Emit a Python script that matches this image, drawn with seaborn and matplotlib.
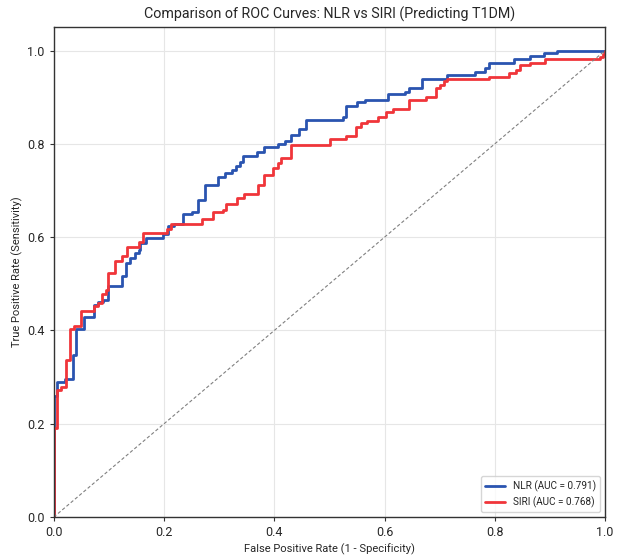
import pandas as pd
import seaborn as sns
import matplotlib.pyplot as plt

# ROC vertices: at each fpr the curve rises to tpr
nlr_fpr = [0.0, 0.0, 0.005, 0.02, 0.035, 0.041, 0.055, 0.073, 0.080, 0.089, 0.099,
           0.123, 0.131, 0.138, 0.147, 0.155, 0.157, 0.168, 0.199, 0.207, 0.218,
           0.235, 0.250, 0.262, 0.274, 0.298, 0.311, 0.323, 0.330, 0.338, 0.343,
           0.369, 0.381, 0.407, 0.419, 0.431, 0.445, 0.457, 0.525, 0.531, 0.550,
           0.564, 0.607, 0.638, 0.645, 0.668, 0.713, 0.764, 0.782, 0.790, 0.834,
           0.864, 0.889, 0.913, 1.0]
nlr_tpr = [0.0, 0.26, 0.29, 0.297, 0.348, 0.404, 0.428, 0.455, 0.462, 0.466, 0.495,
           0.516, 0.544, 0.555, 0.566, 0.573, 0.587, 0.598, 0.607, 0.623, 0.628,
           0.650, 0.655, 0.680, 0.712, 0.730, 0.737, 0.743, 0.752, 0.762, 0.775,
           0.782, 0.793, 0.800, 0.807, 0.820, 0.832, 0.852, 0.858, 0.882, 0.889,
           0.895, 0.907, 0.912, 0.919, 0.938, 0.947, 0.955, 0.962, 0.974, 0.981,
           0.988, 0.994, 1.0, 1.0]

siri_fpr = [0.0, 0.0, 0.006, 0.014, 0.023, 0.030, 0.037, 0.049, 0.073, 0.081, 0.087,
            0.094, 0.099, 0.111, 0.123, 0.132, 0.155, 0.161, 0.205, 0.212, 0.268,
            0.288, 0.307, 0.313, 0.333, 0.345, 0.371, 0.381, 0.398, 0.407, 0.413,
            0.431, 0.501, 0.531, 0.549, 0.558, 0.569, 0.589, 0.602, 0.615, 0.645,
            0.676, 0.694, 0.700, 0.708, 0.713, 0.790, 0.825, 0.838, 0.846, 0.864,
            0.891, 0.990, 0.997, 1.0]
siri_tpr = [0.0, 0.19, 0.272, 0.278, 0.336, 0.403, 0.410, 0.441, 0.453, 0.459, 0.478,
            0.487, 0.523, 0.548, 0.559, 0.578, 0.590, 0.610, 0.617, 0.629, 0.640,
            0.654, 0.658, 0.672, 0.685, 0.692, 0.712, 0.734, 0.748, 0.760, 0.769,
            0.798, 0.810, 0.817, 0.837, 0.844, 0.850, 0.858, 0.869, 0.874, 0.893,
            0.901, 0.920, 0.927, 0.934, 0.938, 0.943, 0.951, 0.959, 0.970, 0.974,
            0.981, 0.986, 0.993, 1.0]

auc_nlr = 0.791
auc_siri = 0.768

nlr = pd.DataFrame({"fpr": nlr_fpr, "tpr": nlr_tpr})
siri = pd.DataFrame({"fpr": siri_fpr, "tpr": siri_tpr})

sns.set_style("whitegrid")
plt.rcParams['font.family'] = ['Roboto', 'DejaVu Sans']
plt.rcParams['axes.edgecolor'] = '#333333'

fig = plt.figure(figsize=(6.18, 5.56), dpi=100)
ax = fig.add_axes([0.087, 0.070, 0.892, 0.881])

sns.lineplot(data=nlr, x="fpr", y="tpr", estimator=None, sort=False, ax=ax,
             color="#2a54b0", linewidth=2, drawstyle="steps-post",
             label=f"NLR (AUC = {auc_nlr:.3f})")
sns.lineplot(data=siri, x="fpr", y="tpr", estimator=None, sort=False, ax=ax,
             color="#f0353a", linewidth=2, drawstyle="steps-post",
             label=f"SIRI (AUC = {auc_siri:.3f})")
ax.plot([0, 1], [0, 1], linestyle=(0, (3, 2)), color="#808080", linewidth=0.8)

ax.set_xlim(0, 1)
ax.set_ylim(0, 1.05)
ax.set_xticks([0, 0.2, 0.4, 0.6, 0.8, 1.0])
ax.set_yticks([0, 0.2, 0.4, 0.6, 0.8, 1.0])
ax.tick_params(axis="both", labelsize=9, length=3, left=True, bottom=True, color='#333333')
ax.grid(True, color="#e6e6e6", linewidth=0.8)
for s in ax.spines.values():
    s.set_color('#333333')
    s.set_linewidth(1)

ax.set_title("Comparison of ROC Curves: NLR vs SIRI (Predicting T1DM)", fontsize=10.3, pad=6)
ax.set_xlabel("False Positive Rate (1 - Specificity)", fontsize=8, labelpad=3)
ax.set_ylabel("True Positive Rate (Sensitivity)", fontsize=8, labelpad=3)
ax.legend(loc="lower right", fontsize=7.2, frameon=True)

fig.savefig("out.png", dpi=100)
